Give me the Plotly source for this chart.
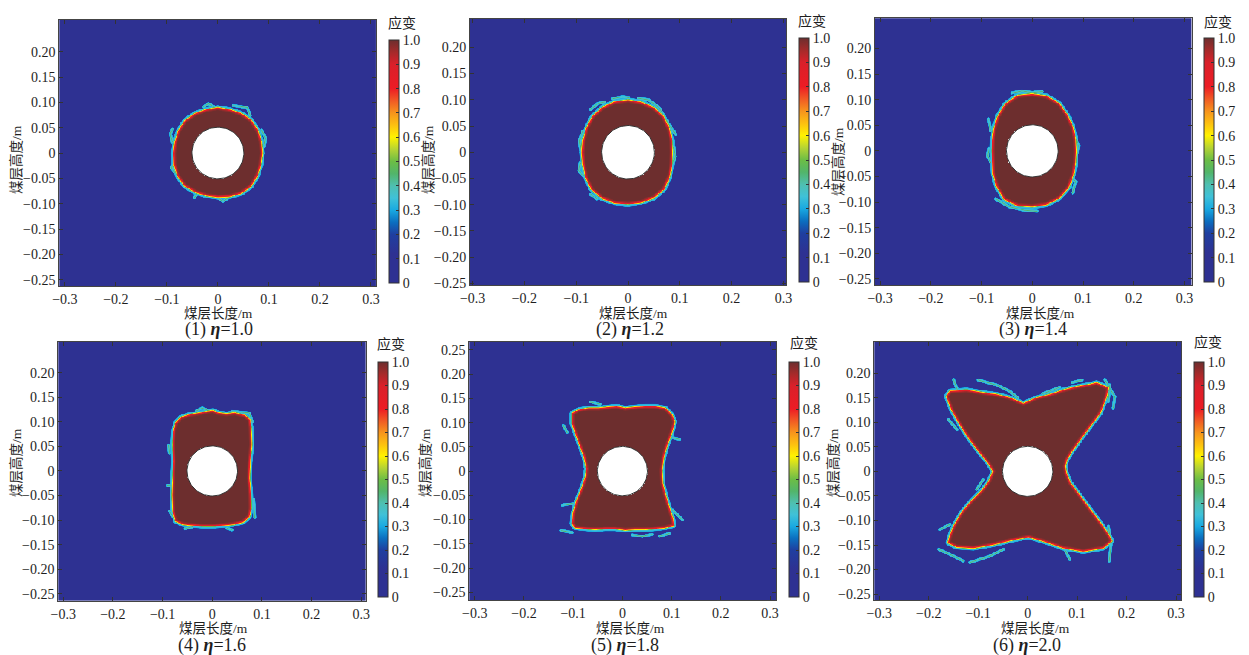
import numpy as np
import plotly.graph_objects as go

W, H = 1249, 655
OFF = 8  # the page body margin shifts the figure by 8 px
FW, FH = W - OFF, H - OFF

# ---------------- data ----------------
HOLE_R = 0.051  # borehole radius (m)

# panels 1-3: damage-zone outline as radius (m) at polar angles (deg)
ANGLES_DEG = [0, 15, 30, 45, 60, 75, 90, 105, 120, 135, 150, 165,
              180, 195, 210, 225, 240, 255, 270, 285, 300, 315, 330, 345]
R_P1 = [0.087, 0.088, 0.090, 0.092, 0.090, 0.088, 0.089, 0.088, 0.089, 0.090, 0.088, 0.086,
        0.086, 0.088, 0.090, 0.091, 0.088, 0.086, 0.086, 0.088, 0.091, 0.092, 0.089, 0.087]
R_P2 = [0.085, 0.087, 0.091, 0.096, 0.098, 0.098, 0.099, 0.099, 0.098, 0.096, 0.092, 0.089,
        0.088, 0.089, 0.094, 0.099, 0.100, 0.099, 0.098, 0.098, 0.099, 0.098, 0.092, 0.087]
R_P3 = [0.086, 0.088, 0.092, 0.098, 0.106, 0.110, 0.110, 0.111, 0.105, 0.095, 0.086, 0.080,
        0.078, 0.080, 0.088, 0.098, 0.109, 0.110, 0.108, 0.108, 0.106, 0.101, 0.093, 0.088]

# panels 4-6: damage-zone outline vertices (m)
P4_X = [-0.0732, -0.0617, -0.0450, -0.0248, -0.0081, 0.0020, 0.0121, 0.0289, 0.0456, 0.0658, 0.0758,
        0.0779, 0.0792, 0.0758, 0.0745, 0.0772, 0.0779, 0.0745, 0.0624, 0.0423, 0.0221, 0.0020,
        -0.0181, -0.0383, -0.0584, -0.0732, -0.0785, -0.0799, -0.0785, -0.0772, -0.0785, -0.0772]
P4_Y = [0.0969, 0.1085, 0.1139, 0.1173, 0.1207, 0.1220, 0.1173, 0.1153, 0.1173, 0.1125, 0.1037,
        0.0868, 0.0529, 0.0190, -0.0149, -0.0488, -0.0759, -0.0929, -0.1037, -0.1084, -0.1105, -0.1118,
        -0.1118, -0.1105, -0.1084, -0.1017, -0.0827, -0.0488, -0.0149, 0.0190, 0.0529, 0.0800]

P5_X = [-0.1015, -0.0893, -0.0690, -0.0487, -0.0284, -0.0115, 0.0054, 0.0257, 0.0460, 0.0663, 0.0866,
        0.1001, 0.1056, 0.0988, 0.0900, 0.0832, 0.0798, 0.0812, 0.0880, 0.0947, 0.1015, 0.1035,
        0.0866, 0.0663, 0.0460, 0.0257, 0.0054, -0.0149, -0.0352, -0.0555, -0.0758, -0.0961,
        -0.1015, -0.0995, -0.0927, -0.0826, -0.0744, -0.0724, -0.0771, -0.0859, -0.0947, -0.1015]
P5_Y = [0.1191, 0.1260, 0.1295, 0.1295, 0.1315, 0.1329, 0.1295, 0.1315, 0.1329, 0.1329, 0.1295,
        0.1157, 0.1019, 0.0778, 0.0537, 0.0296, 0.0021, -0.0255, -0.0530, -0.0757, -0.0974, -0.1111,
        -0.1156, -0.1176, -0.1190, -0.1190, -0.1204, -0.1176, -0.1176, -0.1190, -0.1176, -0.1156,
        -0.1077, -0.0860, -0.0609, -0.0368, -0.0117, 0.0055, 0.0296, 0.0537, 0.0778, 0.0985]

P6_X = [0.0753, 0.0786, 0.0887, 0.1055, 0.1257, 0.1459, 0.1580, 0.1627, 0.1392, 0.1257, 0.0988,
        0.0719, 0.0450, 0.0181, -0.0088, -0.0357, -0.0626, -0.0895, -0.1231, -0.1568, -0.1635,
        -0.1534, -0.1366, -0.1164, -0.0962, -0.0794, -0.0693, -0.0774, -0.0929, -0.1131, -0.1333,
        -0.1488, -0.1568, -0.1602, -0.1434, -0.1098, -0.0694, -0.0324, 0.0013, 0.0316, 0.0719,
        0.1123, 0.1527, 0.1695, 0.1627, 0.1459, 0.1257, 0.1055, 0.0853, 0.0773]
P6_Y = [0.0102, 0.0237, 0.0407, 0.0644, 0.0916, 0.1187, 0.1492, 0.1695, 0.1797, 0.1763, 0.1715,
        0.1647, 0.1559, 0.1490, 0.1375, 0.1490, 0.1559, 0.1593, 0.1648, 0.1627, 0.1526,
        0.1255, 0.0950, 0.0645, 0.0373, 0.0170, 0.0001, -0.0203, -0.0407, -0.0611, -0.0848,
        -0.1119, -0.1322, -0.1457, -0.1539, -0.1559, -0.1491, -0.1403, -0.1335, -0.1423, -0.1559,
        -0.1627, -0.1559, -0.1423, -0.1288, -0.1051, -0.0780, -0.0509, -0.0237, -0.0033]

# detached low-strain crack fragments (polylines, m)
FRAG_P1 = [[(-0.028, 0.091), (-0.018, 0.098), (-0.008, 0.092)],
           [(0.030, 0.094), (0.058, 0.090), (0.064, 0.074)],
           [(0.086, 0.045), (0.094, 0.030), (0.091, 0.012)],
           [(-0.088, 0.048), (-0.093, 0.038), (-0.089, 0.022)],
           [(-0.086, -0.020), (-0.091, -0.029), (-0.082, -0.040)],
           [(-0.040, -0.080), (-0.046, -0.088)],
           [(0.000, -0.088), (0.010, -0.095), (0.020, -0.089)]]
FRAG_P2 = [[(-0.072, 0.082), (-0.058, 0.093), (-0.045, 0.096)],
           [(-0.030, 0.102), (-0.010, 0.106), (0.002, 0.104)],
           [(0.020, 0.103), (0.040, 0.100), (0.060, 0.085), (0.078, 0.055), (0.092, 0.034)],
           [(-0.087, 0.040), (-0.094, 0.022), (-0.090, 0.000)],
           [(-0.092, -0.020), (-0.095, -0.035), (-0.085, -0.045)],
           [(-0.072, -0.080), (-0.060, -0.088)],
           [(0.088, 0.010), (0.091, -0.008), (0.086, -0.022)]]
FRAG_P3 = [[(-0.072, -0.094), (-0.045, -0.109), (-0.015, -0.116), (0.010, -0.118)],
           [(-0.082, 0.040), (-0.086, 0.062)],
           [(-0.085, 0.005), (-0.088, -0.010), (-0.082, -0.022)],
           [(0.086, 0.025), (0.092, 0.010), (0.089, -0.005)],
           [(0.074, -0.052), (0.086, -0.060), (0.080, -0.082)],
           [(-0.040, 0.113), (-0.020, 0.117), (0.000, 0.114), (0.020, 0.116)]]
FRAG_P4 = [[(-0.032, 0.122), (-0.020, 0.128), (-0.008, 0.123)],
           [(0.040, 0.121), (0.075, 0.118), (0.081, 0.100)],
           [(-0.088, 0.052), (-0.086, 0.036)],
           [(-0.090, -0.030), (-0.079, -0.031)],
           [(-0.086, -0.082), (-0.075, -0.100)],
           [(0.084, -0.058), (0.086, -0.095)],
           [(-0.055, -0.118), (-0.040, -0.114)],
           [(0.030, -0.117), (0.040, -0.120)]]
FRAG_P5 = [[(-0.125, -0.122), (-0.102, -0.126)],
           [(0.020, -0.131), (0.040, -0.134), (0.060, -0.130)],
           [(0.102, -0.080), (0.112, -0.090), (0.122, -0.100)],
           [(0.098, 0.070), (0.116, 0.066)],
           [(-0.122, -0.070), (-0.100, -0.066)],
           [(-0.065, 0.143), (-0.045, 0.138)],
           [(-0.120, 0.095), (-0.112, 0.080)],
           [(0.075, -0.134), (0.095, -0.128)]]
FRAG_P6 = [[(-0.150, 0.187), (-0.140, 0.160)],
           [(-0.100, 0.186), (-0.063, 0.176), (-0.036, 0.163), (-0.019, 0.149)],
           [(0.030, 0.158), (0.065, 0.171)],
           [(0.090, 0.181), (0.110, 0.186)],
           [(0.156, 0.187), (0.176, 0.152), (0.173, 0.129)],
           [(0.166, 0.176), (0.163, 0.142)],
           [(-0.160, 0.105), (-0.143, 0.085)],
           [(-0.130, 0.085), (-0.113, 0.058)],
           [(-0.177, -0.119), (-0.157, -0.108)],
           [(-0.180, -0.159), (-0.150, -0.173), (-0.130, -0.183)],
           [(-0.117, -0.186), (-0.076, -0.173), (-0.049, -0.159)],
           [(0.075, -0.159), (0.085, -0.180)],
           [(0.163, -0.112), (0.169, -0.146), (0.165, -0.183)],
           [(-0.090, -0.017), (-0.103, -0.037)]]

ETA = ["1.0", "1.2", "1.4", "1.6", "1.8", "2.0"]
X_TICKS = [-0.3, -0.2, -0.1, 0, 0.1, 0.2, 0.3]
X_TICKTEXT = ["\u22120.3", "\u22120.2", "\u22120.1", "0", "0.1", "0.2", "0.3"]
Y_TICKS = [-0.25, -0.20, -0.15, -0.10, -0.05, 0, 0.05, 0.10, 0.15, 0.20]
Y_TICKTEXT = ["\u22120.25", "\u22120.20", "\u22120.15", "\u22120.10", "\u22120.05", "0",
              "0.05", "0.10", "0.15", "0.20"]
Y_TICKS_5 = Y_TICKS + [0.25]
Y_TICKTEXT_5 = Y_TICKTEXT + ["0.25"]
CB_TICKS = [0, 0.1, 0.2, 0.3, 0.4, 0.5, 0.6, 0.7, 0.8, 0.9, 1.0]
CB_TICKTEXT = ["0", "0.1", "0.2", "0.3", "0.4", "0.5", "0.6", "0.7", "0.8", "0.9", "1.0"]

# ---------------- layout (window pixels) ----------------
PANELS = [
    dict(box=(59.3, 376, 20, 286), xr=(-0.311, 0.310), yr=(-0.2625, 0.2625), cb=(389, 40, 283),
         cbt=(402, 23), xt=(218, 313), yt=(16, 160), st=(219, 329)),
    dict(box=(470, 786, 19, 285), xr=(-0.305, 0.305), yr=(-0.253, 0.254), cb=(799, 38, 282),
         cbt=(812, 21), xt=(633, 313), yt=(428, 160), st=(630, 329)),
    dict(box=(875, 1191.7, 18.3, 285), xr=(-0.310, 0.314), yr=(-0.262, 0.259), cb=(1204, 38, 282),
         cbt=(1218, 22), xt=(1040, 313), yt=(838, 162), st=(1033, 329)),
    dict(box=(58.3, 365.7, 341.7, 600.7), xr=(-0.310, 0.309), yr=(-0.264, 0.263), cb=(378, 362, 597),
         cbt=(391, 344), xt=(213, 628), yt=(16, 463), st=(212, 645)),
    dict(box=(469.3, 776, 341.7, 600), xr=(-0.311, 0.312), yr=(-0.266, 0.267), cb=(789, 362, 597),
         cbt=(804, 343), xt=(630, 628), yt=(425, 463), st=(625, 645)),
    dict(box=(874.3, 1181, 341.7, 600), xr=(-0.310, 0.310), yr=(-0.262, 0.264), cb=(1194, 362, 597),
         cbt=(1208, 342), xt=(1035, 628), yt=(833, 463), st=(1027, 645)),
]

COLORSCALE = [
    [0.0, "#2e3192"], [0.12, "#2e3192"], [0.2, "#1f3fa0"], [0.25, "#0b6fc0"],
    [0.3, "#19a9e1"], [0.35, "#3fc1d8"], [0.4, "#4fbfb0"], [0.45, "#52b56a"],
    [0.5, "#6cbd45"], [0.55, "#b5d334"], [0.6, "#fff200"], [0.65, "#fdc010"],
    [0.7, "#f7941d"], [0.75, "#f15a24"], [0.8, "#ed1c24"], [0.9, "#d9202a"],
    [0.95, "#a52a2a"], [1.0, "#6d2e2e"],
]

FONT = "Liberation Serif, Times New Roman, Noto Sans CJK SC, serif"
TXT = "#1e1e1e"


def fx(px):
    return (px - OFF) / FW


def fy(py):
    return 1 - (py - OFF) / FH


def polar_outline(radii):
    a = np.deg2rad(np.array(ANGLES_DEG, dtype=float))
    r = np.array(radii, dtype=float)
    return r * np.cos(a), r * np.sin(a)


def seg_dist(X, Y, x1, y1, x2, y2):
    dx, dy = x2 - x1, y2 - y1
    L2 = dx * dx + dy * dy
    if L2 == 0:
        return np.hypot(X - x1, Y - y1)
    t = np.clip(((X - x1) * dx + (Y - y1) * dy) / L2, 0.0, 1.0)
    return np.hypot(X - (x1 + t * dx), Y - (y1 + t * dy))


def build_field(xr, yr, px, py, frags, step=0.0015):
    xs = np.arange(xr[0], xr[1] + step, step)
    ys = np.arange(yr[0], yr[1] + step, step)
    X, Y = np.meshgrid(xs, ys)
    px = np.asarray(px, float)
    py = np.asarray(py, float)
    n = len(px)
    inside = np.zeros(X.shape, dtype=bool)
    dmin = np.full(X.shape, np.inf)
    for i in range(n):
        x1, y1 = px[i], py[i]
        x2, y2 = px[(i + 1) % n], py[(i + 1) % n]
        dmin = np.minimum(dmin, seg_dist(X, Y, x1, y1, x2, y2))
        cond = (y1 > Y) != (y2 > Y)
        denom = (y2 - y1) if (y2 - y1) != 0 else 1e-12
        xint = (x2 - x1) * (Y - y1) / denom + x1
        inside ^= cond & (X < xint)
    sd = np.where(inside, -dmin, dmin)
    v = np.interp(sd, [-0.005, -0.002, 0.0, 0.0015, 0.003, 0.0055, 0.007],
                  [1.0, 0.95, 0.82, 0.62, 0.35, 0.30, 0.0])
    if frags:
        dfr = np.full(X.shape, np.inf)
        for fr in frags:
            for (a, b) in zip(fr[:-1], fr[1:]):
                dfr = np.minimum(dfr, seg_dist(X, Y, a[0], a[1], b[0], b[1]))
        vf = np.interp(dfr, [0.0, 0.0015, 0.0030, 0.0042], [0.45, 0.35, 0.30, 0.0])
        v = np.maximum(v, vf)
    v[np.hypot(X, Y) < HOLE_R] = np.nan
    return xs, ys, v.astype(np.float32)


outlines = [polar_outline(R_P1), polar_outline(R_P2), polar_outline(R_P3),
            (P4_X, P4_Y), (P5_X, P5_Y), (P6_X, P6_Y)]
fragments = [FRAG_P1, FRAG_P2, FRAG_P3, FRAG_P4, FRAG_P5, FRAG_P6]

fig = go.Figure()
annotations = []
layout = dict(width=FW, height=FH, margin=dict(l=0, r=0, t=0, b=0, autoexpand=False),
              paper_bgcolor="white", plot_bgcolor="white", showlegend=False,
              font=dict(family=FONT, size=14, color=TXT))

theta = np.linspace(0, 2 * np.pi, 121)

for k, p in enumerate(PANELS):
    idx = "" if k == 0 else str(k + 1)
    xa, ya = "x" + idx, "y" + idx
    L, R, T, B = p["box"]
    xs, ys, z = build_field(p["xr"], p["yr"], outlines[k][0], outlines[k][1], fragments[k])
    cbx, cbt, cbb = p["cb"]
    fig.add_trace(go.Heatmap(
        x=xs, y=ys, z=z, xaxis=xa, yaxis=ya, zmin=0, zmax=1,
        colorscale=COLORSCALE, hoverinfo="skip", zsmooth=False,
        colorbar=dict(x=fx(cbx), xanchor="left", xpad=0, y=fy(cbt), yanchor="top", ypad=0,
                      len=cbb - cbt, lenmode="pixels", thickness=10, thicknessmode="pixels",
                      outlinewidth=1, outlinecolor="#333333",
                      tickvals=CB_TICKS, ticktext=CB_TICKTEXT, ticks="inside", ticklen=3,
                      tickcolor="#333333", tickfont=dict(family=FONT, size=14, color=TXT)),
    ))
    fig.add_trace(go.Scatter(
        x=HOLE_R * np.cos(theta), y=HOLE_R * np.sin(theta), xaxis=xa, yaxis=ya,
        mode="lines", fill="toself", fillcolor="white",
        line=dict(color="#333333", width=1), hoverinfo="skip"))

    yt = Y_TICKS_5 if k == 4 else Y_TICKS
    ytt = Y_TICKTEXT_5 if k == 4 else Y_TICKTEXT
    common = dict(showline=True, linecolor="#444444", linewidth=1, mirror="ticks",
                  ticks="inside", ticklen=4, tickcolor="#333333", showgrid=False,
                  zeroline=False, automargin=False,
                  tickfont=dict(family=FONT, size=14, color=TXT))
    layout["xaxis" + idx] = dict(domain=[fx(L), fx(R)], range=list(p["xr"]), anchor=ya,
                                 tickvals=X_TICKS, ticktext=X_TICKTEXT, **common)
    layout["yaxis" + idx] = dict(domain=[fy(B), fy(T)], range=list(p["yr"]), anchor=xa,
                                 tickvals=yt, ticktext=ytt, **common)

    def ann(pos, text, size=14, angle=0):
        annotations.append(dict(x=fx(pos[0]), y=fy(pos[1]), xref="paper", yref="paper",
                                text=text, showarrow=False, xanchor="center", yanchor="middle",
                                textangle=angle, font=dict(family=FONT, size=size, color=TXT)))

    ann(p["cbt"], "应变")
    ann(p["xt"], "煤层长度/m", size=13.5)
    ann(p["yt"], "煤层高度/m", size=13.5, angle=-90)
    ann(p["st"], "(%d) <b><i>η</i></b>=%s" % (k + 1, ETA[k]), size=18)

layout["annotations"] = annotations
fig.update_layout(**layout)
fig.write_html("out.html")
